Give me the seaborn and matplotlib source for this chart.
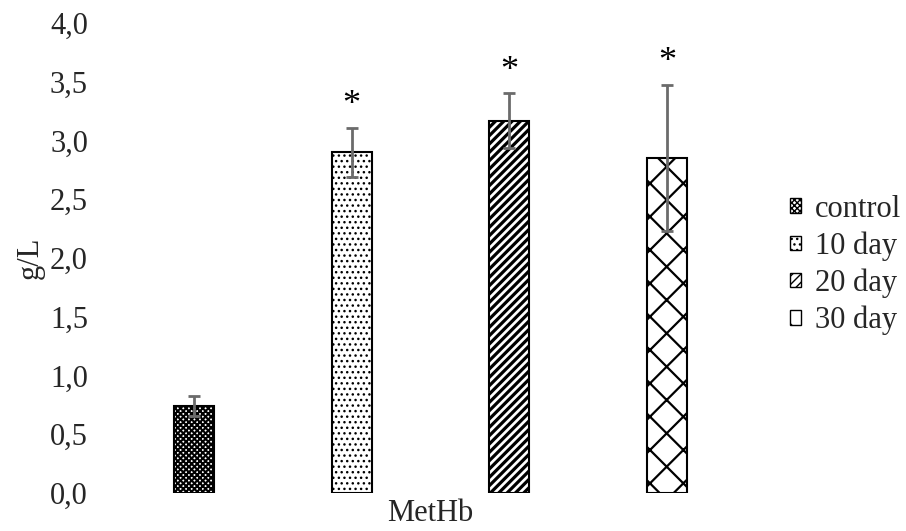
import matplotlib
matplotlib.use("Agg")
import matplotlib.pyplot as plt
import seaborn as sns
import pandas as pd
from matplotlib.ticker import FuncFormatter
from matplotlib.patches import Patch

groups = ["control", "10 day", "20 day", "30 day"]
values = [0.74, 2.90, 3.17, 2.85]
errors = [0.085, 0.21, 0.23, 0.62]
signif = ["", "*", "*", "*"]
yticks = [0.0, 0.5, 1.0, 1.5, 2.0, 2.5, 3.0, 3.5, 4.0]
xlabel = "MetHb"
ylabel = "g/L"

hatches = ["xxxxxx", "...", "////", "x"]
hatch_lw = [1.5, 1.0, 2.3, 1.6]

sns.set_theme(style="white")
plt.rcParams["font.family"] = ["Liberation Serif", "DejaVu Serif"]
FS = 22

df = pd.DataFrame({"group": groups, "value": values})

fig = plt.figure(figsize=(9.06, 5.31), dpi=100)
ax = fig.add_axes([0.127, 0.0716, 0.696, 0.8851])

sns.barplot(data=df, x="group", y="value", order=groups, color="white",
            width=0.254, errorbar=None, ax=ax, edgecolor="black", linewidth=1.5)

for i, p in enumerate(ax.patches):
    p.set_hatch(hatches[i])
    p.set_edgecolor("black")
    p.set_facecolor("white")
    try:
        p.set_hatch_linewidth(hatch_lw[i])
    except Exception:
        pass

ax.errorbar(range(len(groups)), values, yerr=errors, fmt="none",
            ecolor="#6b6b6b", elinewidth=2, capsize=4.5, capthick=2, zorder=5)

for i, s in enumerate(signif):
    if s:
        ax.text(i, values[i] + errors[i] + 0.05, s, ha="center", va="bottom",
                fontsize=26, color="black")

ax.set_ylim(0, 4.0)
ax.set_xlim(-0.5, 3.5)
ax.set_yticks(yticks)
ax.yaxis.set_major_formatter(FuncFormatter(lambda v, pos: f"{v:.1f}".replace(".", ",")))
ax.set_xticks([])
ax.tick_params(axis="y", length=0, labelsize=FS, pad=19.5)
for s in ax.spines.values():
    s.set_visible(False)
ax.set_xlabel(xlabel, fontsize=FS, labelpad=4)
ax.set_ylabel(ylabel, fontsize=FS, labelpad=4)

handles = []
for i, g in enumerate(groups):
    h = Patch(facecolor="white", edgecolor="black", hatch=hatches[i], label=g,
              linewidth=1.0)
    try:
        h.set_hatch_linewidth(min(hatch_lw[i], 1.2))
    except Exception:
        pass
    handles.append(h)
leg = fig.legend(handles=handles, loc="center left", bbox_to_anchor=(0.872, 0.501),
                 frameon=False, fontsize=FS, handlelength=0.36, handleheight=0.36,
                 handletextpad=0.45, labelspacing=0.25, borderpad=0, borderaxespad=0)

fig.savefig("out.png", dpi=100)
